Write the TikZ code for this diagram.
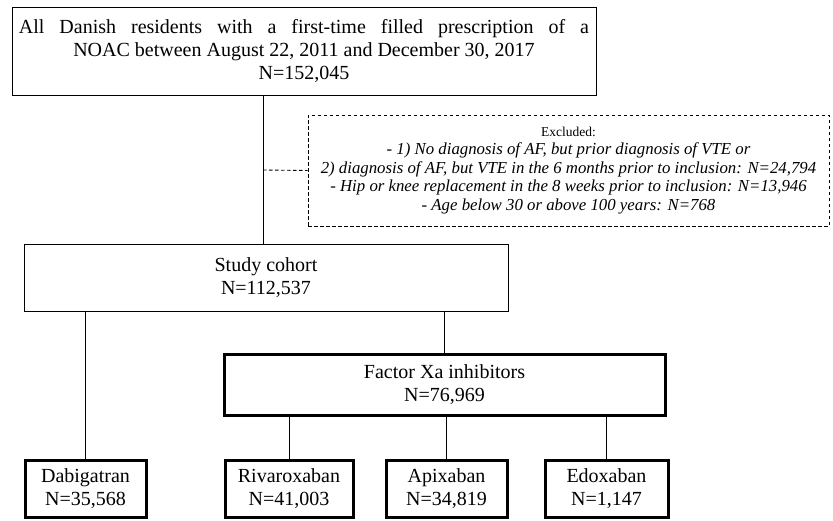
\documentclass[tikz,border=0pt]{standalone}
\usepackage{fontspec}
\setmainfont{Liberation Serif}
\begin{document}
\begin{tikzpicture}[x=1pt,y=1pt,
  box/.style={draw=black, line width=1pt, rectangle, inner sep=0pt, align=center,
    font=\fontsize{20}{23}\selectfont},
  thickbox/.style={box, line width=3pt},
  exbox/.style={draw=black, dash pattern=on 3.5pt off 2.5pt, line width=0.9pt, rectangle, inner sep=0pt, align=center,
    font=\fontsize{16.8}{18.5}\selectfont},
  conn/.style={line width=1pt},
  dconn/.style={line width=0.9pt, dash pattern=on 3.5pt off 2.5pt}
]
\useasboundingbox (0,0) rectangle (833,-520);

\node[box, minimum width=584pt, minimum height=88pt] (top) at (304,-51)
  {\makebox[570pt][s]{All Danish residents with a first-time filled prescription of a}\\
   NOAC between August 22, 2011 and December 30, 2017\\ N=152,045};

\node[exbox, minimum width=521pt, minimum height=111pt] (excl) at (568.5,-170.5)
  {\fontsize{13.5}{18.5}\selectfont Excluded:\\
   \itshape - 1) No diagnosis of AF, but prior diagnosis of VTE or\\
   \itshape 2) diagnosis of AF, but VTE in the 6 months prior to inclusion: N=24,794\\
   \itshape - Hip or knee replacement in the 8 weeks prior to inclusion: N=13,946\\
   \itshape - Age below 30 or above 100 years: N=768};

\node[box, minimum width=484pt, minimum height=67pt] (cohort) at (266,-277.5)
  {Study cohort\\N=112,537};

\node[thickbox, minimum width=441pt, minimum height=61pt] (factor) at (444.5,-384.5)
  {Factor Xa inhibitors\\N=76,969};

\node[thickbox, minimum width=121pt, minimum height=57pt] (dab) at (85.5,-488.5)
  {Dabigatran\\N=35,568};
\node[thickbox, minimum width=128pt, minimum height=57pt] (riv) at (289,-488.5)
  {Rivaroxaban\\N=41,003};
\node[thickbox, minimum width=121pt, minimum height=57pt] (api) at (446.5,-488.5)
  {Apixaban\\N=34,819};
\node[thickbox, minimum width=123pt, minimum height=57pt] (edo) at (606.5,-488.5)
  {Edoxaban\\N=1,147};

\coordinate (j) at (263,-170);
\draw[conn] (top.south -| j) -- (cohort.north -| j);
\draw[dconn] (j) -- (excl.west);
\draw[conn] (dab.north) -- (dab.north |- cohort.south);
\draw[conn] (factor.north) -- (factor.north |- cohort.south);
\draw[conn] (riv.north) -- (riv.north |- factor.south);
\draw[conn] (api.north) -- (api.north |- factor.south);
\draw[conn] (edo.north) -- (edo.north |- factor.south);
\end{tikzpicture}
\end{document}
